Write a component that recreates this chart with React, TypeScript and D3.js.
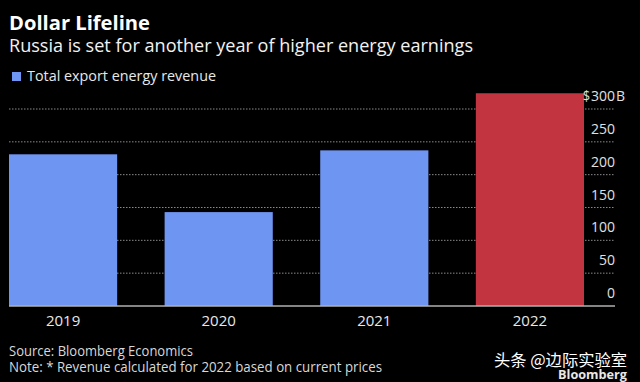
import React from "react";
import * as d3 from "d3";

const years = ["2019", "2020", "2021", "2022"];
const revenue = [231, 143, 237, 324];
const highlightYear = "2022";
const yTicks = [0, 50, 100, 150, 200, 250, 300];

const W = 640;
const H = 382;
const FONT = "'Open Sans', 'DejaVu Sans', sans-serif";

export default function App() {
  const x = d3.scaleBand<string>().domain(years).range([9, 584]).paddingInner(0.305).paddingOuter(0);
  const y = d3.scaleLinear().domain([0, 300]).range([306, 109]);
  const blue = "#6f95f2";
  const red = "#c2343f";
  return (
    <svg width={W} height={H} style={{ position: "absolute", left: 0, top: 0, background: "#000" }}>
      <rect x={0} y={0} width={W} height={H} fill="#000" />
      <text x={9} y={30} fill="#fff" fontFamily={FONT} fontWeight="bold" fontSize={19} textLength={141} lengthAdjust="spacingAndGlyphs">Dollar Lifeline</text>
      <text x={9} y={52} fill="#f2f2f2" fontFamily={FONT} fontSize={18} textLength={464} lengthAdjust="spacingAndGlyphs">Russia is set for another year of higher energy earnings</text>
      <rect x={12} y={72} width={9} height={9} fill={blue} />
      <text x={27} y={81} fill="#e8e8e8" fontFamily={FONT} fontSize={15} textLength={189} lengthAdjust="spacingAndGlyphs">Total export energy revenue</text>

      {yTicks.filter((t) => t > 0).map((t) => (
        <line key={"g" + t} x1={9} x2={615} y1={y(t)} y2={y(t)} stroke="#8a8a8a" strokeWidth={1} strokeDasharray="1.5,1.5" />
      ))}

      {years.map((yr, i) => (
        <rect key={yr} x={x(yr)} y={y(revenue[i])} width={x.bandwidth()} height={y(0) - y(revenue[i])} fill={yr === highlightYear ? red : blue} />
      ))}

      <line x1={9} x2={615} y1={y(0)} y2={y(0)} stroke="#b0b0b0" strokeWidth={1.5} />

      {yTicks.map((t) => (
        <text key={"t" + t} x={615} y={y(t) - 8} textAnchor="end" fill="#e0e0e0" fontFamily={FONT} fontSize={14}>{t}</text>
      ))}
      <text x={590} y={y(300) - 8} textAnchor="end" fill="#e0e0e0" fontFamily={FONT} fontSize={14} textLength={7} lengthAdjust="spacingAndGlyphs">$</text>
      <text x={616} y={y(300) - 8} fill="#e0e0e0" fontFamily={FONT} fontSize={14}>B</text>

      {years.map((yr) => (
        <text key={"x" + yr} x={(x(yr) as number) + x.bandwidth() / 2} y={326} textAnchor="middle" fill="#e8e8e8" fontFamily={FONT} fontSize={15}>{yr}</text>
      ))}

      <text x={9} y={356} fill="#d8d8d8" fontFamily={FONT} fontSize={14} textLength={184} lengthAdjust="spacingAndGlyphs">Source: Bloomberg Economics</text>
      <text x={9} y={372} fill="#d8d8d8" fontFamily={FONT} fontSize={14} textLength={373} lengthAdjust="spacingAndGlyphs">Note: * Revenue calculated for 2022 based on current prices</text>

      <text x={494} y={366} fill="#fff" fontFamily="'Noto Sans CJK SC', sans-serif" fontSize={16} textLength={133} lengthAdjust="spacingAndGlyphs">头条 @边际实验室</text>
      <text x={558} y={379} fill="#e8e8e8" fontFamily={FONT} fontWeight="bold" fontSize={12} textLength={69} lengthAdjust="spacingAndGlyphs">Bloomberg</text>
    </svg>
  );
}
